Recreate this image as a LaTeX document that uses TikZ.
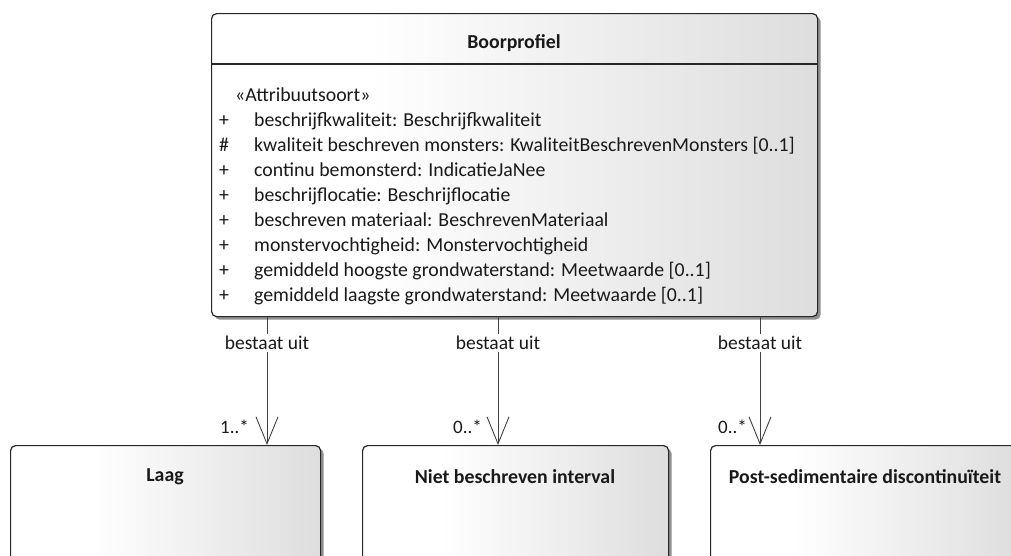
\documentclass[tikz,border=0pt]{standalone}
\usepackage{fontspec}
\setmainfont{Carlito}
\usetikzlibrary{arrows.meta,shadows,calc}
\pgfdeclarehorizontalshading{umlshade}{100bp}{color(0bp)=(white); color(38bp)=(white); color(100bp)=(black!22)}
\begin{document}
\begin{tikzpicture}[x=1pt,y=-1pt,
  umlbox/.style={draw=black!85, line width=1.2pt, rounded corners=5pt,
    shading=umlshade,
    drop shadow={shadow xshift=3pt, shadow yshift=-3pt, fill=black!55, opacity=0.8},
    inner sep=0pt, anchor=north west},
  attr/.style={anchor=base west, inner sep=0pt, font=\fontsize{19.8}{22}\selectfont, text=black!90},
  title/.style={inner sep=0pt, font=\fontsize{19.8}{22}\selectfont\bfseries, text=black!90},
  assoc/.style={draw=black!75, line width=0.9pt, -{Straight Barb[length=27pt,width=22pt,line width=0.9pt]}},
  rolelbl/.style={fill=white, inner sep=2pt, font=\fontsize{19.5}{22}\selectfont, text=black!90},
  mult/.style={anchor=base east, inner sep=0pt, font=\fontsize{19}{22}\selectfont, text=black!90}]
\useasboundingbox (0,0) rectangle (1011,555);
% main class
\node[umlbox, minimum width=606pt, minimum height=303pt] (main) at (211,13) {};
\draw[black!85, line width=1.2pt] (211,64) -- (817,64);
\node[title] (mtitle) at (514,43) {Boorprofiel};
\node[attr] (st) at (235,101) {«Attribuutsoort»};
\foreach \i/\v/\t in {1/+/beschrijfkwaliteit: Beschrijfkwaliteit,
  2/\#/kwaliteit beschreven monsters: KwaliteitBeschrevenMonsters [0..1],
  3/+/continu bemonsterd: IndicatieJaNee,
  4/+/beschrijflocatie: Beschrijflocatie,
  5/+/beschreven materiaal: BeschrevenMateriaal,
  6/+/monstervochtigheid: Monstervochtigheid,
  7/+/gemiddeld hoogste grondwaterstand: Meetwaarde [0..1],
  8/+/gemiddeld laagste grondwaterstand: Meetwaarde [0..1]} {
  \node[attr] (v\i) at (219,101+25*\i) {\v};
  \node[attr] (a\i) at (254,101+25*\i) {\t};
}
% child classes
\node[umlbox, minimum width=310pt, minimum height=140pt] (laag) at (10,445) {};
\node[title] at (165,477) {Laag};
\node[umlbox, minimum width=306pt, minimum height=140pt] (niet) at (362,445) {};
\node[title] at (515,477) {Niet beschreven interval};
\node[umlbox, minimum width=310pt, minimum height=140pt] (post) at (710,445) {};
\node[title] at (865,477) {Post-sedimentaire discontinuïteit};
% associations
\coordinate (c1) at (267,316);
\coordinate (c2) at (498,316);
\coordinate (c3) at (760,316);
\draw[assoc] (c1) -- node[rolelbl, pos=0.21] {bestaat uit} (c1 |- laag.north);
\draw[assoc] (c2) -- node[rolelbl, pos=0.21] {bestaat uit} (c2 |- niet.north);
\draw[assoc] (c3) -- node[rolelbl, pos=0.21] {bestaat uit} (c3 |- post.north);
\node[mult] (m1) at (249,433) {1..*};
\node[mult] (m2) at (482,433) {0..*};
\node[mult] (m3) at (747,433) {0..*};
\end{tikzpicture}
\end{document}
